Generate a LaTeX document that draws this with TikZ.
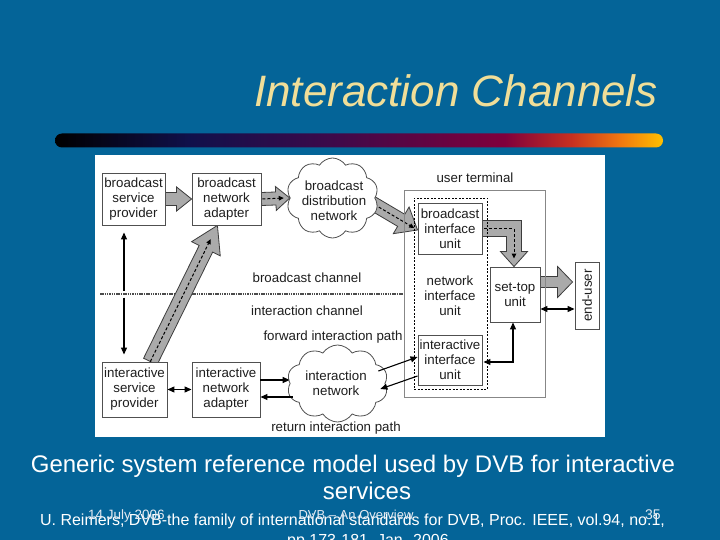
\documentclass[tikz,border=0pt]{standalone}
\usepackage{fontspec}
\setmainfont{Liberation Sans}
\usetikzlibrary{calc,shapes.symbols,arrows.meta}
\definecolor{slideblue}{RGB}{4,100,152}
\definecolor{titlecol}{RGB}{240,222,152}
\definecolor{foot}{RGB}{228,234,242}
\definecolor{txtcol}{RGB}{30,30,30}
\definecolor{boxline}{RGB}{80,80,80}
\definecolor{utline}{RGB}{135,135,135}
\definecolor{arrfill}{RGB}{170,170,170}
\definecolor{arrline}{RGB}{60,60,60}
\definecolor{dotcol}{RGB}{75,75,75}
\definecolor{gA}{RGB}{16,16,74}
\definecolor{gB}{RGB}{58,10,74}
\definecolor{gC}{RGB}{128,0,60}
\definecolor{gD}{RGB}{200,48,32}
\definecolor{gE}{RGB}{240,120,16}
\definecolor{gF}{RGB}{255,192,0}
\pgfdeclarehorizontalshading{barshade}{100bp}{color(0bp)=(black); color(25bp)=(black); color(36bp)=(gA); color(47bp)=(gB); color(62bp)=(gC); color(67.5bp)=(gD); color(71.5bp)=(gE); color(75bp)=(gF); color(100bp)=(gF)}
\pgfdeclarelayer{back}
\pgfdeclarelayer{mid}
\pgfsetlayers{back,mid,main}
% block arrow: from #1 to #2, body half width #3, head half width #4, head length #5
\newcommand{\blockarr}[5]{%
  \coordinate (bahead) at ($(#2)!#5!(#1)$);
  \filldraw[blk] ($(#1)!#3!90:(#2)$) -- ($(bahead)!#3!90:(#2)$) -- ($(bahead)!#4!90:(#2)$) -- (#2) -- ($(bahead)!#4!-90:(#2)$) -- ($(bahead)!#3!-90:(#2)$) -- ($(#1)!#3!-90:(#2)$) -- cycle;
}
\begin{document}
\begin{tikzpicture}[x=1pt,y=-1pt,
  txt/.style={font=\fontsize{13.3}{15}\selectfont, text=txtcol, align=center, inner sep=0pt},
  box/.style={txt, draw=boxline, line width=0.9pt, fill=white},
  cloudnode/.style={cloud, cloud puffs=10, cloud puff arc=115, cloud ignores aspect, draw=boxline, line width=0.8pt, fill=white, inner sep=0pt},
  thinarr/.style={line width=1.1pt, draw=black, -{Triangle[length=7pt,width=6pt]}},
  dblarr/.style={line width=1.1pt, draw=black, {Triangle[length=7pt,width=6pt]}-{Triangle[length=7pt,width=6pt]}},
  blk/.style={draw=arrline, fill=arrfill, line width=0.8pt, line join=miter},
  innerarr/.style={line width=1pt, draw=black, dash pattern=on 3pt off 2pt, -{Triangle[length=5pt,width=4.5pt]}},
  dotline/.style={line width=2pt, draw=dotcol, dash pattern=on 1.5pt off 0.8pt},
  slidetxt/.style={text=white, inner sep=0pt, anchor=base}
]
\useasboundingbox (0,0) rectangle (720,540);
\begin{pgfonlayer}{back}
  \fill[slideblue] (0,0) rectangle (720,540);
  \shade[shading=barshade, rounded corners=7pt] (55,133.5) rectangle (663,147.5);
  \fill[white] (95,155) rectangle (605,437);
\end{pgfonlayer}

% title and captions
\node[anchor=base east, inner sep=0pt, text=titlecol, font=\fontsize{44}{50}\selectfont\itshape] (title) at (658,107) {Interaction Channels};
\node[slidetxt, font=\fontsize{24}{28}\selectfont] (cap1) at (353,472) {Generic system reference model used by DVB for interactive};
\node[slidetxt, font=\fontsize{24}{28}\selectfont] (cap2) at (367,499) {services};
\node[slidetxt, font=\fontsize{16}{18}\selectfont] (ref1) at (352.5,525) {U. Reimers, DVB-the family of international standards for DVB, Proc. IEEE, vol.94, no.1,};
\node[slidetxt, font=\fontsize{16}{18}\selectfont] (ref2) at (368,545) {pp.173-181, Jan. 2006};
\node[slidetxt, anchor=base west, text=foot, font=\fontsize{13.5}{15}\selectfont] (date) at (88,519) {14 July 2006};
\node[slidetxt, text=foot, font=\fontsize{13}{15}\selectfont] (topic) at (356,519) {DVB – An Overview};
\node[slidetxt, anchor=base west, text=foot, font=\fontsize{14}{15}\selectfont] (page) at (645,519) {35};

% boxes
\node[box, minimum width=63pt, minimum height=52pt] (bsp) at (133.5,199) {broadcast\\service\\provider};
\node[box, minimum width=69pt, minimum height=52pt] (bna) at (226.5,199) {broadcast\\network\\adapter};
\node[box, minimum width=65pt, minimum height=55pt] (isp) at (134.5,389.5) {interactive\\service\\provider};
\node[box, minimum width=68pt, minimum height=55pt] (ina) at (226,389.5) {interactive\\network\\adapter};
\node[cloudnode, minimum width=92pt, minimum height=80pt] (bcloud) at (332.5,198) {};
\node[txt] (bcloudtxt) at (334,201) {broadcast\\distribution\\network};
\node[cloudnode, minimum width=101pt, minimum height=77pt] (icloud) at (337.5,383.5) {};
\node[txt] (icloudtxt) at (336,383) {interaction\\network};

\node[txt] (utlabel) at (475,178) {user terminal};
\node[draw=utline, line width=0.9pt, minimum width=141pt, minimum height=207pt, inner sep=0pt] (ut) at (474.5,293.5) {};
\node[draw=black, line width=0.8pt, dash pattern=on 2pt off 1.5pt, minimum width=73pt, minimum height=191pt, inner sep=0pt] (niu) at (450.5,293.5) {};
\node[box, minimum width=64pt, minimum height=51pt] (biu) at (450,228.5) {broadcast\\interface\\unit};
\node[box, minimum width=64pt, minimum height=50pt] (iiu) at (450,360) {interactive\\interface\\unit};
\node[txt] (niutxt) at (450,296) {network\\interface\\unit};
\node[box, minimum width=50pt, minimum height=55pt] (stu) at (515,294.5) {set-top\\unit};
\node[box, minimum width=24pt, minimum height=67pt] (eu) at (587,295.5) {};
\node[txt, rotate=90] (eutxt) at (eu.center) {end-user};

% channel labels
\node[txt] (bclab) at (307,278) {broadcast channel};
\node[txt] (iclab) at (307,311) {interaction channel};
\node[txt] (fwlab) at (333,337) {forward interaction path};
\node[txt] (rtlab) at (336,428) {return interaction path};

% dotted channel divider
\coordinate (divL) at (100,293.5);
\begin{pgfonlayer}{back}
  \draw[dotline] (divL) -- (ut.west);
\end{pgfonlayer}

% block arrows
\coordinate (dgs) at ($(isp.north west)!0.74!(isp.north east)$);
\coordinate (dge) at ($(bna.south west)!0.37!(bna.south east)$);
\coordinate (a3s) at ($(bcloud.east)+(-5,4)$);
\coordinate (a3e) at ($(biu.west)+(0,1.5)$);
\coordinate (a5s) at ($(stu.east)+(0,-12.5)$);
\coordinate (a5e) at ($(stu.east -| eu.west)+(-2,-12.5)$);
\coordinate (tipS) at ($(stu.north)+(-1,0)$);
\begin{pgfonlayer}{mid}
  \blockarr{bsp.east}{bna.west}{6.5pt}{12pt}{15pt}
  \blockarr{bna.east}{bcloud.west}{6.5pt}{12pt}{14pt}
  \blockarr{a3s}{a3e}{7pt}{15.5pt}{19pt}
  \blockarr{dgs}{dge}{7.5pt}{16pt}{26pt}
  \blockarr{a5s}{a5e}{5.5pt}{15.5pt}{15pt}
  \filldraw[blk] ($(biu.east)+(0,-8)$) -- ($(tipS|-biu.east)+(7.5,-8)$) -- ($(tipS)+(7.5,-15)$) -- ($(tipS)+(13.5,-15)$) -- (tipS) -- ($(tipS)+(-13.5,-15)$) -- ($(tipS)+(-7.5,-15)$) -- ($(tipS|-biu.east)+(-7.5,8)$) -- ($(biu.east)+(0,8)$) -- cycle;
  % inner dashed paths
  \draw[innerarr] ($(bna.east)+(1,0)$) -- ($(bcloud.west)+(-6,0)$);
  \draw[innerarr] (a3s) -- ($(a3s)!0.93!(a3e)$);
  \draw[innerarr] (dgs) -- ($(dgs)!0.9!(dge)$);
  \draw[innerarr] ($(biu.east)+(2,0)$) -- (tipS|-biu.east) -- ($(tipS)+(0,-8)$);
\end{pgfonlayer}

% thin arrows
\coordinate (upx) at ([xshift=-9.5pt]bsp.south);
\coordinate (dnx) at ([xshift=-10.5pt]isp.north);
\draw[thinarr] ($(upx |- divL)+(0,-3)$) -- ([yshift=-7pt]upx);
\draw[thinarr] ($(dnx |- divL)+(0,4)$) -- ([yshift=7pt]dnx);
\draw[dblarr] (isp.east) -- (ina.west);
\coordinate (f1) at ([yshift=9.5pt]ina.east);
\coordinate (r1) at ([yshift=-7.5pt]ina.east);
\draw[thinarr] (f1) -- (f1 -| icloud.west);
\draw[thinarr] ($(r1 -| icloud.west)+(3,0)$) -- (r1);
\draw[thinarr] ($(icloud.east)+(-7,-12.5)$) -- ($(iiu.west)+(0,-3)$);
\draw[thinarr] ($(iiu.west)+(0,16)$) -- ($(icloud.east)+(-5,5.5)$);
\draw[dblarr] ($(iiu.east)+(1,2)$) -| ([xshift=-2pt]stu.south);
\coordinate (se) at ($(stu.east)+(0,14.5)$);
\draw[dblarr] (se) -- (se -| eu.west);
\end{tikzpicture}
\end{document}
